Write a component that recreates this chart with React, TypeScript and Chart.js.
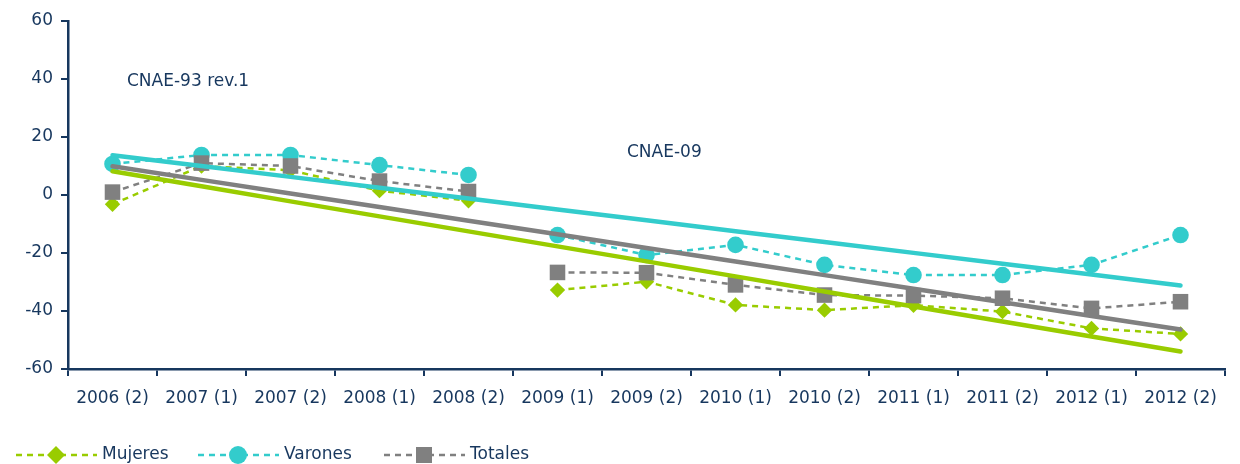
import React, { useEffect, useRef } from 'react';
import { Chart, registerables } from 'chart.js';

Chart.register(...registerables);

const categories = [
  '2006 (2)', '2007 (1)', '2007 (2)', '2008 (1)', '2008 (2)', '2009 (1)', '2009 (2)',
  '2010 (1)', '2010 (2)', '2011 (1)', '2011 (2)', '2012 (1)', '2012 (2)',
];
const mujeres = [-3.2, 10, 8.5, 1.5, -2, -32.8, -29.9, -37.9, -39.7, -38, -40.2, -46, -47.9];
const varones = [10.7, 13.8, 13.8, 10.3, 6.9, -13.8, -20.7, -17.2, -24.1, -27.6, -27.6, -24.1, -13.8];
const totales = [1.0, 11, 10, 4.8, 1.2, -26.7, -26.8, -31, -34.5, -34.7, -35.6, -39.1, -36.8];
const yTickValues = [-60, -40, -20, 0, 20, 40, 60];
const seriesNames = ['Mujeres', 'Varones', 'Totales'];
const periodLabels = ['CNAE-93 rev.1', 'CNAE-09'];
const breakAfterIndex = 4;

const GREEN = '#99CC00';
const CYAN = '#33CCCC';
const GRAY = '#808080';
const NAVY = '#17375E';
const FONT = '"DejaVu Sans", sans-serif';

function linearTrend(values: number[]): number[] {
  const n = values.length;
  const mx = (n - 1) / 2;
  const my = values.reduce((a, b) => a + b, 0) / n;
  let sxy = 0;
  let sxx = 0;
  values.forEach((v, i) => {
    sxy += (i - mx) * (v - my);
    sxx += (i - mx) * (i - mx);
  });
  const slope = sxy / sxx;
  return values.map((_, i) => my + slope * (i - mx));
}

const dashed = (color: string) => ({
  borderColor: color,
  backgroundColor: color,
  pointBackgroundColor: color,
  pointBorderColor: color,
  borderWidth: 2.5,
  borderDash: [6, 5],
  pointBorderWidth: 0,
  segment: {
    borderColor: (ctx: any) => (ctx.p0DataIndex === breakAfterIndex ? 'rgba(0,0,0,0)' : color),
  },
  tension: 0,
});

const trendStyle = (color: string) => ({
  borderColor: color,
  backgroundColor: color,
  borderWidth: 4.5,
  pointRadius: 0,
  borderCapStyle: 'round' as const,
  tension: 0,
  order: 0,
});

const overlayPlugin = {
  id: 'overlay',
  afterDraw(chart: any) {
    const ctx = chart.ctx as CanvasRenderingContext2D;
    ctx.save();
    ctx.fillStyle = NAVY;
    ctx.font = `17px ${FONT}`;
    ctx.textBaseline = 'middle';
    ctx.textAlign = 'left';
    ctx.fillText(periodLabels[0], 127, 82);
    ctx.fillText(periodLabels[1], 627, 153);

    const items = [
      { name: seriesNames[0], color: GREEN, style: 'diamond', x: 16 },
      { name: seriesNames[1], color: CYAN, style: 'circle', x: 198 },
      { name: seriesNames[2], color: GRAY, style: 'square', x: 384 },
    ];
    const y = 455;
    items.forEach((it) => {
      ctx.strokeStyle = it.color;
      ctx.lineWidth = 2.5;
      ctx.setLineDash([6, 5]);
      ctx.beginPath();
      ctx.moveTo(it.x, y);
      ctx.lineTo(it.x + 81, y);
      ctx.stroke();
      ctx.setLineDash([]);
      const cx = it.x + 40;
      ctx.fillStyle = it.color;
      ctx.beginPath();
      if (it.style === 'diamond') {
        const r = 9;
        ctx.moveTo(cx - r, y);
        ctx.lineTo(cx, y - r);
        ctx.lineTo(cx + r, y);
        ctx.lineTo(cx, y + r);
        ctx.closePath();
      } else if (it.style === 'circle') {
        ctx.arc(cx, y, 9, 0, Math.PI * 2);
      } else {
        ctx.rect(cx - 8, y - 8, 16, 16);
      }
      ctx.fill();
      ctx.fillStyle = NAVY;
      ctx.font = `17px ${FONT}`;
      ctx.fillText(it.name, it.x + 86, y);
    });
    ctx.restore();
  },
};

export default function App() {
  const ref = useRef<HTMLCanvasElement | null>(null);

  useEffect(() => {
    if (!ref.current) return;
    const chart = new Chart(ref.current, {
      type: 'line',
      data: {
        labels: categories,
        datasets: [
          { label: 'Tendencia ' + seriesNames[0], data: linearTrend(mujeres), ...trendStyle(GREEN) },
          { label: 'Tendencia ' + seriesNames[1], data: linearTrend(varones), ...trendStyle(CYAN) },
          { label: 'Tendencia ' + seriesNames[2], data: linearTrend(totales), ...trendStyle(GRAY) },
          { label: seriesNames[2], data: totales, ...dashed(GRAY), pointStyle: 'rect', pointRadius: 11, order: 1 },
          { label: seriesNames[1], data: varones, ...dashed(CYAN), pointStyle: 'circle', pointRadius: 8.3, order: 2 },
          { label: seriesNames[0], data: mujeres, ...dashed(GREEN), pointStyle: 'rectRot', pointRadius: 7.7, order: 3 },
        ] as any,
      },
      options: {
        animation: false,
        responsive: false,
        devicePixelRatio: 1,
        layout: { padding: { top: 21, right: 15, bottom: 0, left: 0 } },
        plugins: {
          legend: { display: false },
          tooltip: { enabled: false },
        },
        scales: {
          x: {
            type: 'category',
            offset: true,
            grid: {
              offset: true,
              drawOnChartArea: false,
              drawTicks: true,
              tickLength: 7,
              color: NAVY,
              lineWidth: 2,
            },
            border: { color: NAVY, width: 2.5 },
            ticks: {
              color: NAVY,
              font: { family: FONT, size: 17 },
              padding: 12,
              maxRotation: 0,
              autoSkip: false,
            },
            afterFit: (s: any) => {
              s.height = 95;
            },
          },
          y: {
            min: -60,
            max: 60,
            afterBuildTicks: (s: any) => {
              s.ticks = yTickValues.map((v) => ({ value: v }));
            },
            grid: {
              drawOnChartArea: false,
              drawTicks: true,
              tickLength: 7,
              color: NAVY,
              lineWidth: 2,
            },
            border: { color: NAVY, width: 2.5 },
            ticks: {
              color: NAVY,
              font: { family: FONT, size: 17 },
              padding: 8,
            },
            afterFit: (s: any) => {
              s.width = 68;
            },
          },
        },
      },
      plugins: [overlayPlugin],
    });
    return () => chart.destroy();
  }, []);

  return (
    <div style={{ position: 'fixed', left: 0, top: 0, width: 1240, height: 464, background: '#fff' }}>
      <canvas ref={ref} width={1240} height={464} style={{ display: 'block' }} />
    </div>
  );
}
